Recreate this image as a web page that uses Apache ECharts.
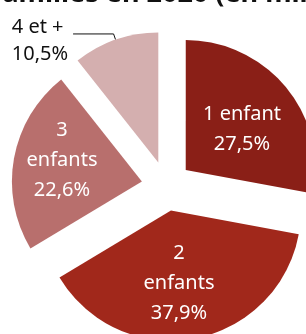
<!DOCTYPE html>
<html>
<head>
<meta charset="utf-8">
<script src="https://cdn.jsdelivr.net/npm/echarts@6/dist/echarts.min.js"></script>
<style>
    html, body { margin: 0; padding: 0; background: #fff; }
    #chart { width: 306px; height: 334px; }
</style>
</head>
<body>
<div id="chart"></div>
<script>
    // familles selon le nombre d'enfants (en %)
    const categories = ['1 enfant', '2 enfants', '3 enfants', '4 et +'];
    const labelTexts = ['1 enfant', '2\nenfants', '3\nenfants', '4 et +'];
    const shares = [27.5, 37.9, 22.6, 10.5];
    const colors = ['#8a1f17', '#a1281b', '#b86f6d', '#d4afaf'];

    // petits décalages des étiquettes intérieures
    const nudges = [[4, 3], [-4, 6], [-13, -9], [0, 0]];

    let chart = echarts.init(document.getElementById('chart'));

    let pct = v => v.toFixed(1).replace('.', ',') + '%';

    let data = categories.map((c, i) => ({
        name: c,
        value: shares[i],
        selected: true,
        itemStyle: {color: colors[i]},
        label: i < 3 ? {
            position: 'inside',
            color: '#fff',
            formatter: labelTexts[i] + '\n' + pct(shares[i])
        } : {
            position: 'outside',
            alignTo: 'edge',
            edgeDistance: 20,
            color: '#111',
            lineHeight: 27,
            // ligne vide en tête pour descendre le texte sous le trait
            formatter: '{s| }\n' + labelTexts[i] + '\n' + pct(shares[i]),
            rich: {s: {lineHeight: 14, fontSize: 10}}
        },
        labelLine: {show: i === 3}
    }));

    let option = {
        animation: false,
        graphic: [{
            type: 'text',
            x: -8,
            y: -19,
            style: {
                text: 'familles en 2020 (en milliers)',
                font: 'bold 27px "Noto Sans"',
                fill: '#111',
                verticalAlign: 'top'
            }
        }],
        series: [{
            type: 'pie',
            center: [166.5, 186],
            radius: 130,
            startAngle: 90,
            clockwise: true,
            selectedMode: 'multiple',
            selectedOffset: 25,
            emphasis: {disabled: true},
            select: {itemStyle: {borderWidth: 0}},
            label: {
                fontFamily: 'Noto Sans',
                fontSize: 20,
                lineHeight: 30
            },
            labelLine: {
                length: 6,
                length2: 10,
                lineStyle: {color: '#111', width: 1}
            },
            labelLayout: function (p) {
                let n = nudges[p.dataIndex];
                return p.dataIndex < 3 ? {dx: n[0], dy: n[1]} : {};
            },
            data: data
        }]
    };

    chart.setOption(option);
</script>
</body>
</html>
